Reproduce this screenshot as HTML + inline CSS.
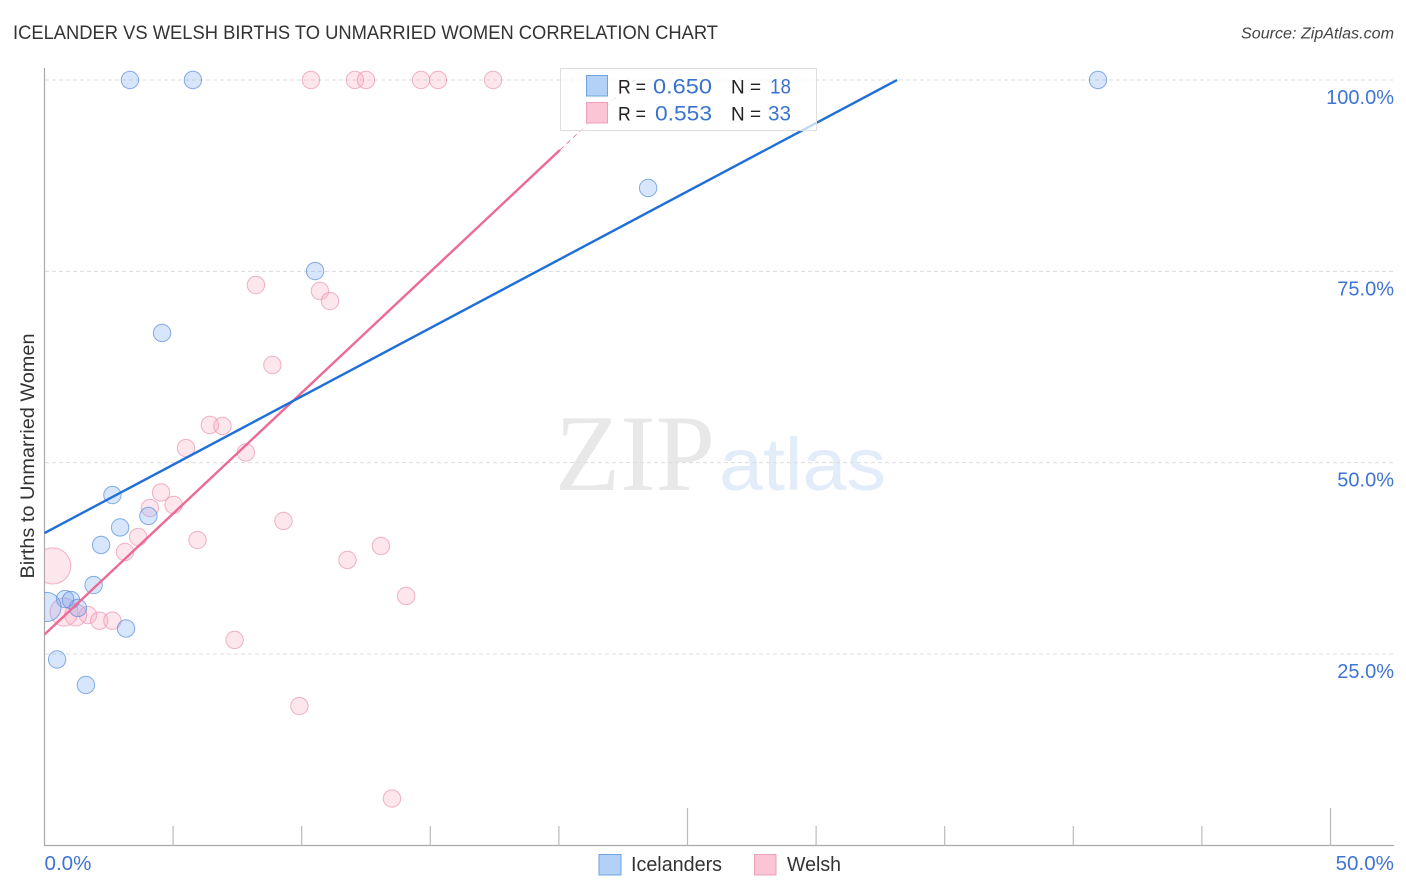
<!DOCTYPE html>
<html lang="en">
<head>
<meta charset="utf-8">
<title>Icelander vs Welsh Births to Unmarried Women Correlation Chart</title>
<style>
html,body{margin:0;padding:0;background:#fff;width:1406px;height:892px;overflow:hidden}
svg{display:block;font-family:"Liberation Sans",sans-serif}
</style>
</head>
<body>
<svg id="chart" xmlns="http://www.w3.org/2000/svg" width="1406" height="892" viewBox="0 0 1406 892">
  <defs>
    <clipPath id="plot-clip"><rect x="44.5" y="60" width="1350" height="786"/></clipPath>
  </defs>
  <rect x="0" y="0" width="1406" height="892" fill="#fff"/>
  <text x="13" y="39" font-size="19" fill="#333" textLength="705" lengthAdjust="spacingAndGlyphs">ICELANDER VS WELSH BIRTHS TO UNMARRIED WOMEN CORRELATION CHART</text>
  <text x="1241" y="38.5" font-size="15.5" font-style="italic" fill="#444" textLength="153" lengthAdjust="spacingAndGlyphs">Source: ZipAtlas.com</text>

  <g>
    <text x="555" y="490" font-family="'Liberation Serif',serif" font-size="109" fill="#e8e8e8" textLength="160" lengthAdjust="spacingAndGlyphs">ZIP</text>
    <text x="719" y="490" font-size="74" fill="#e3ecf9" textLength="167" lengthAdjust="spacingAndGlyphs">atlas</text>
  </g>

  <g id="grid"></g>
  <g id="axes"></g>
  <g id="points" clip-path="url(#plot-clip)"></g>
  <g id="trends"></g>
  <g id="labels"></g>

  <text transform="translate(34,456) rotate(-90)" font-size="19.5" fill="#333" text-anchor="middle" textLength="245" lengthAdjust="spacingAndGlyphs">Births to Unmarried Women</text>

  <g>
    <rect x="560.5" y="68.5" width="256" height="62" fill="#fff" fill-opacity="0.72" stroke="#ddd" stroke-width="1"/>
    <rect x="586.5" y="75.5" width="21" height="20.5" fill="#b3d1f7" stroke="#6fa3e0" stroke-width="1"/>
    <rect x="586.5" y="102.5" width="21" height="20.5" fill="#fcc5d6" stroke="#ee9fb9" stroke-width="1"/>
    <text x="618" y="93.5" font-size="19.5" fill="#222" textLength="28" lengthAdjust="spacingAndGlyphs">R =</text>
    <text x="653" y="93.5" font-size="21" fill="#3b72d2" textLength="59" lengthAdjust="spacingAndGlyphs">0.650</text>
    <text x="731" y="93.5" font-size="19.5" fill="#222" textLength="30" lengthAdjust="spacingAndGlyphs">N =</text>
    <text x="770" y="93.5" font-size="21" fill="#3b72d2" textLength="21" lengthAdjust="spacingAndGlyphs">18</text>
    <text x="618" y="120.5" font-size="19.5" fill="#222" textLength="28" lengthAdjust="spacingAndGlyphs">R =</text>
    <text x="655" y="120.5" font-size="21" fill="#3b72d2" textLength="57" lengthAdjust="spacingAndGlyphs">0.553</text>
    <text x="731" y="120.5" font-size="19.5" fill="#222" textLength="30" lengthAdjust="spacingAndGlyphs">N =</text>
    <text x="768" y="120.5" font-size="21" fill="#3b72d2" textLength="23" lengthAdjust="spacingAndGlyphs">33</text>
  </g>

  <g>
    <g>
      <rect x="599" y="854.5" width="22" height="20.5" fill="#b3d1f7" stroke="#6fa3e0" stroke-width="1"/>
      <text x="631" y="871" font-size="20" fill="#333" textLength="91" lengthAdjust="spacingAndGlyphs">Icelanders</text>
    </g>
    <g>
      <rect x="754.5" y="854.5" width="21.5" height="20.5" fill="#fcc5d6" stroke="#ee9fb9" stroke-width="1"/>
      <text x="787" y="871" font-size="20" fill="#333" textLength="54" lengthAdjust="spacingAndGlyphs">Welsh</text>
    </g>
  </g>
</svg>
<script>
var icelanderX = [3.32,5.77,40.96,23.47,10.52,4.57,2.64,4.04,2.94,2.20,1.91,0.80,1.03,1.30,3.17,0.49,1.61,0.08];
var icelanderY = [100,100,100,85.89,75.04,66.94,45.77,43.03,41.53,39.24,34.01,32.18,32.05,31.01,28.33,24.28,20.95,31.14];
var icelanderWeight = [1,1,1,1,1,1,1,1,1,1,1,1,1,1,1,1,1,2.8];
var welshX = [10.36,12.07,12.50,14.64,15.30,17.44,8.22,10.71,11.10,8.86,6.43,6.92,5.50,7.83,4.53,4.10,5.02,9.29,3.64,5.95,3.13,13.08,11.78,0.32,14.06,1.69,0.76,1.21,2.13,2.64,7.39,9.91,13.51];
var welshY = [100,100,100,100,100,100,73.21,72.43,71.12,62.76,54.92,54.79,51.91,51.33,46.10,44.07,44.47,42.38,40.28,39.89,38.33,39.11,37.28,36.50,32.58,30.09,30.48,30.09,29.35,29.35,26.83,18.20,6.11];
var welshWeight = [1,1,1,1,1,1,1,1,1,1,1,1,1,1,1,1,1,1,1,1,1,1,1,4.3,1,1,2.6,1.6,1,1,1,1,1];
var icelanderTrendX = [0,33.15];
var icelanderTrendY = [40.8,100];
var welshTrendX = [0,20.04];
var welshTrendY = [27.55,90.85];
var welshExtendX = [20.04,22.94];
var welshExtendY = [90.85,100];
var xTicks = [0,5,10,15,20,25,30,35,40,45,50];
var xMajorTicks = [25,50];
var yGrid = [25,50,75,100];
var yTickLabels = ['25.0%','50.0%','75.0%','100.0%'];
var xEndValues = [0,50];
var xEndLabels = ['0.0%','50.0%'];

var NS = 'http://www.w3.org/2000/svg';
function sx(v){ return 44.5 + v * 25.72; }
function sy(v){ return 80 + (100 - v) * 7.653; }
function make(tag, parentId){
  var el = document.createElementNS(NS, tag);
  document.getElementById(parentId).appendChild(el);
  return el;
}

yGrid.forEach(function(v){
  var ln = make('line','grid');
  
  
  ln.setAttribute('x1', 45);
  ln.setAttribute('x2', 1394);
  ln.setAttribute('y1', sy(v));
  ln.setAttribute('y2', sy(v));
  ln.setAttribute('stroke', '#dcdcdc');
  ln.setAttribute('stroke-width', '1');
  ln.setAttribute('stroke-dasharray', '4 3');
});

var yAxis = make('line','axes');


yAxis.setAttribute('x1', 44.5);
yAxis.setAttribute('x2', 44.5);
yAxis.setAttribute('y1', 68);
yAxis.setAttribute('y2', 846);
yAxis.setAttribute('stroke', '#aaa');
yAxis.setAttribute('stroke-width', '1.2');

var xAxis = make('line','axes');


xAxis.setAttribute('x1', 44);
xAxis.setAttribute('x2', 1394);
xAxis.setAttribute('y1', 845.5);
xAxis.setAttribute('y2', 845.5);
xAxis.setAttribute('stroke', '#aaa');
xAxis.setAttribute('stroke-width', '1.2');

xTicks.forEach(function(v){
  if (v === 0) return;
  var t = make('line','axes');
  
  
  t.setAttribute('x1', sx(v));
  t.setAttribute('x2', sx(v));
  t.setAttribute('y1', xMajorTicks.indexOf(v) >= 0 ? 808 : 826);
  t.setAttribute('y2', 845.5);
  t.setAttribute('stroke', '#bbb');
  t.setAttribute('stroke-width', '1.2');
});

function drawPoint(x, y, w, fill, stroke, name){
  var c = make('circle','points');
  
  
  c.setAttribute('cx', sx(x));
  c.setAttribute('cy', sy(y));
  c.setAttribute('r', 8.7 * Math.sqrt(w));
  c.setAttribute('fill', fill);
  c.setAttribute('stroke', stroke);
  c.setAttribute('stroke-width', '1');
}
welshX.forEach(function(x, i){
  drawPoint(x, welshY[i], welshWeight[i], 'rgba(250,165,192,0.28)', 'rgba(232,140,170,0.65)', 'welsh-point');
});
icelanderX.forEach(function(x, i){
  drawPoint(x, icelanderY[i], icelanderWeight[i], 'rgba(110,165,240,0.28)', 'rgba(85,140,220,0.70)', 'icelander-point');
});

var wExt = make('line','trends');


wExt.setAttribute('x1', sx(welshExtendX[0]));
wExt.setAttribute('x2', sx(welshExtendX[1]));
wExt.setAttribute('y1', sy(welshExtendY[0]));
wExt.setAttribute('y2', sy(welshExtendY[1]));
wExt.setAttribute('stroke', '#ec6a94');
wExt.setAttribute('stroke-width', '0.8');
wExt.setAttribute('stroke-dasharray', '5 4');

var wTrend = make('line','trends');


wTrend.setAttribute('x1', sx(welshTrendX[0]));
wTrend.setAttribute('x2', sx(welshTrendX[1]));
wTrend.setAttribute('y1', sy(welshTrendY[0]));
wTrend.setAttribute('y2', sy(welshTrendY[1]));
wTrend.setAttribute('stroke', '#ec6a94');
wTrend.setAttribute('stroke-width', '2.4');

var iTrend = make('line','trends');


iTrend.setAttribute('x1', sx(icelanderTrendX[0]));
iTrend.setAttribute('x2', sx(icelanderTrendX[1]));
iTrend.setAttribute('y1', sy(icelanderTrendY[0]));
iTrend.setAttribute('y2', sy(icelanderTrendY[1]));
iTrend.setAttribute('stroke', '#1f6fd8');
iTrend.setAttribute('stroke-width', '2.4');

yGrid.forEach(function(v, i){
  var t = make('text','labels');
  
  
  t.setAttribute('x', 1394);
  t.setAttribute('y', sy(v) + 24);
  t.setAttribute('text-anchor', 'end');
  t.setAttribute('font-size', '20');
  t.setAttribute('fill', '#3f74d4');
  t.textContent = yTickLabels[i];
});

xEndValues.forEach(function(v, i){
  var t = make('text','labels');
  
  
  t.setAttribute('x', i === 0 ? sx(v) : 1394);
  t.setAttribute('y', 870);
  t.setAttribute('text-anchor', i === 0 ? 'start' : 'end');
  t.setAttribute('font-size', '20.6');
  t.setAttribute('fill', '#3f74d4');
  t.textContent = xEndLabels[i];
});
</script>
</body>
</html>
